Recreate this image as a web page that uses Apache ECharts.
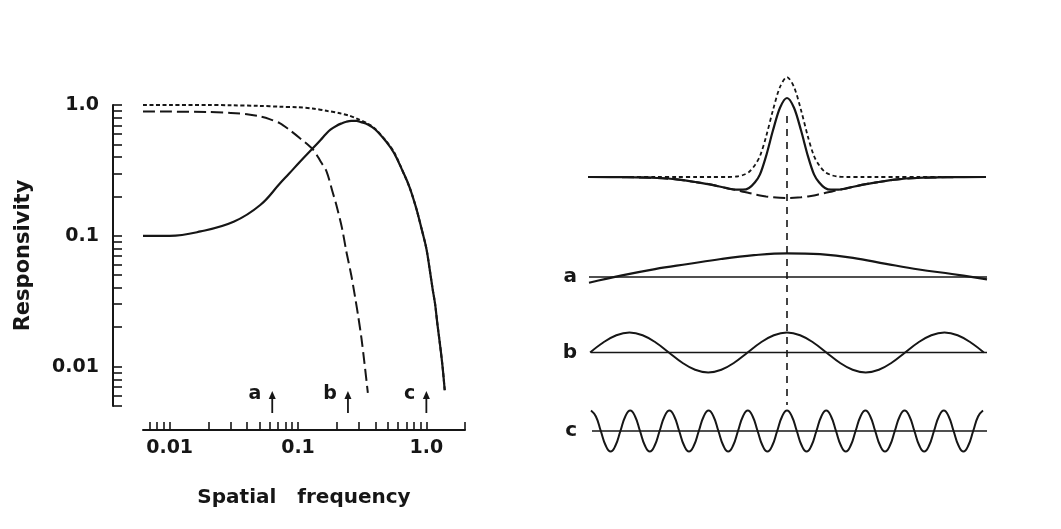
<!DOCTYPE html>
<html>
<head>
<meta charset="utf-8">
<script src="https://cdn.jsdelivr.net/npm/echarts@6.0.0/dist/echarts.min.js"></script>
<style>
  html, body { margin: 0; padding: 0; background: #fff; }
  #chart { width: 1061px; height: 529px; }
</style>
</head>
<body>
<div id="chart"></div>
<script>
// ---- left panel: responsivity vs spatial frequency (log / log) ----
const solidFreq = [0.0062, 0.01, 0.0174, 0.0315, 0.0508, 0.0725, 0.085, 0.1036, 0.1315, 0.15, 0.165, 0.18, 0.2, 0.22, 0.238, 0.26, 0.285, 0.31, 0.35, 0.4, 0.486, 0.56, 0.656, 0.74, 0.833, 0.92, 1.0, 1.06, 1.12, 1.17, 1.22, 1.28, 1.34, 1.39];
const solidResp = [0.1, 0.1, 0.108, 0.128, 0.172, 0.252, 0.298, 0.368, 0.471, 0.541, 0.6, 0.65, 0.695, 0.725, 0.745, 0.755, 0.755, 0.74, 0.71, 0.65, 0.525, 0.43, 0.31, 0.235, 0.163, 0.112, 0.08, 0.056, 0.039, 0.03, 0.021, 0.0145, 0.0098, 0.0066];

const surroundFreq = [0.0062, 0.01, 0.02, 0.03, 0.04, 0.05, 0.06, 0.0725, 0.085, 0.1036, 0.1315, 0.15, 0.167, 0.185, 0.199, 0.22, 0.238, 0.26, 0.277, 0.295, 0.312, 0.33, 0.35];
const surroundResp = [0.89, 0.89, 0.885, 0.87, 0.85, 0.82, 0.78, 0.725, 0.65, 0.557, 0.454, 0.37, 0.31, 0.22, 0.172, 0.115, 0.076, 0.05, 0.035, 0.024, 0.0165, 0.0105, 0.0063];

const centerFreq = [0.0062, 0.01, 0.02, 0.03, 0.05, 0.0725, 0.1, 0.13, 0.17, 0.212, 0.25, 0.285, 0.35, 0.4, 0.486, 0.56, 0.656, 0.74, 0.833, 0.92, 1.0, 1.06, 1.12, 1.17, 1.22, 1.28, 1.34, 1.39];
const centerResp = [1.0, 1.0, 1.0, 0.995, 0.985, 0.97, 0.96, 0.94, 0.90, 0.864, 0.83, 0.79, 0.72, 0.655, 0.53, 0.435, 0.31, 0.235, 0.163, 0.112, 0.08, 0.056, 0.039, 0.03, 0.021, 0.0145, 0.0098, 0.0066];

const arrowFreq = [0.063, 0.245, 1.0];
const arrowLabels = ['a', 'b', 'c'];

const xTickValues = [0.007, 0.008, 0.009, 0.01, 0.02, 0.03, 0.04, 0.05, 0.06, 0.07, 0.08, 0.09, 0.1, 0.2, 0.3, 0.4, 0.5, 0.6, 0.7, 0.8, 0.9, 1, 2];
const xLabelValues = [0.01, 0.1, 1];
const xLabelText = ['0.01', '0.1', '1.0'];
const yTickValues = [0.005, 0.006, 0.007, 0.008, 0.009, 0.01, 0.02, 0.03, 0.04, 0.05, 0.06, 0.07, 0.08, 0.09, 0.1, 0.2, 0.3, 0.4, 0.5, 0.6, 0.7, 0.8, 0.9, 1];
const yLabelValues = [0.01, 0.1, 1];
const yLabelText = ['0.01', '0.1', '1.0'];

// ---- right panel: profiles (position offset from centre, amplitude) ----
const profileX = [-199, -160, -130, -110, -90, -75, -60, -50, -44, -38, -32, -27, -21, -14, -7, 0, 7, 14, 21, 27, 32, 38, 44, 50, 60, 75, 90, 110, 130, 160, 199];
const profileCenter = [0, 0, 0, 0, 0, 0, 0, 0.5, 2, 5, 12, 21, 40, 67, 90, 100, 90, 67, 40, 21, 12, 5, 2, 0.5, 0, 0, 0, 0, 0, 0, 0];
const profileSurround = [0, -0.2, -1, -2.4, -5.3, -7.8, -11.2, -13.2, -14.7, -16, -17.3, -18.4, -19.4, -20.3, -20.8, -21, -20.8, -20.3, -19.4, -18.4, -17.3, -16, -14.7, -13.2, -11.2, -7.8, -5.3, -2.4, -1, -0.2, 0];
const profileSum = [0, -0.2, -1, -2.4, -5.3, -7.8, -11.2, -12.7, -12.7, -11, -5.3, 2.6, 20.6, 46.7, 69.2, 79, 69.2, 46.7, 20.6, 2.6, -5.3, -11, -12.7, -12.7, -11.2, -7.8, -5.3, -2.4, -1, -0.2, 0];

const gratingA_X = [-198, -165, -132, -99, -66, -33, 0, 33, 66, 99, 132, 165, 200];
const gratingA = [-5.7, 1.6, 7.9, 13, 18, 21.8, 23.7, 22.8, 19.2, 13.2, 7.5, 3, -2.3];
// b: samples every 1/12 period, c: every 1/8 period
const gratingB = [0, 10, 17.3, 20, 17.3, 10, 0, -10, -17.3, -20, -17.3, -10, 0, 10, 17.3, 20, 17.3, 10, 0, -10, -17.3, -20, -17.3, -10, 0, 10, 17.3, 20, 17.3, 10, 0];
const gratingC = [
  20.5, 14.5, 0, -14.5, -20.5, -14.5, 0, 14.5,
  20.5, 14.5, 0, -14.5, -20.5, -14.5, 0, 14.5,
  20.5, 14.5, 0, -14.5, -20.5, -14.5, 0, 14.5,
  20.5, 14.5, 0, -14.5, -20.5, -14.5, 0, 14.5,
  20.5, 14.5, 0, -14.5, -20.5, -14.5, 0, 14.5,
  20.5, 14.5, 0, -14.5, -20.5, -14.5, 0, 14.5,
  20.5, 14.5, 0, -14.5, -20.5, -14.5, 0, 14.5,
  20.5, 14.5, 0, -14.5, -20.5, -14.5, 0, 14.5,
  20.5, 14.5, 0, -14.5, -20.5, -14.5, 0, 14.5,
  20.5, 14.5, 0, -14.5, -20.5, -14.5, 0, 14.5,
  20.5
];
const rowNames = ['a', 'b', 'c'];

const ink = '#161616';
const font = '"DejaVu Sans", sans-serif';

// row layout of the right panel (value units of its y axis)
const rowBase = { profile: 293, a: 193, b: 117.5, c: 39 };
const bStart = -196.9, bStep = 13.125;
const cStart = -196, cStep = 4.9;

const pairs = (xs, ys) => xs.map((x, i) => [x, ys[i]]);
const lifted = (xs, ys, base) => xs.map((x, i) => [x, base + ys[i]]);
const stepped = (start, step, ys, base) => ys.map((y, i) => [start + i * step, base + y]);

const chart = echarts.init(document.getElementById('chart'));

function lineSeries(data, grid, width, dash, smooth) {
  return {
    type: 'line',
    xAxisIndex: grid,
    yAxisIndex: grid,
    data: data,
    showSymbol: false,
    symbol: 'none',
    smooth: smooth === undefined ? 0.3 : smooth,
    clip: false,
    silent: true,
    lineStyle: { color: ink, width: width, type: dash || 'solid' }
  };
}

const option = {
  backgroundColor: '#fff',
  animation: false,
  grid: [
    { left: 143, top: 105, width: 322, height: 301 },
    { left: 588, top: 60, width: 399, height: 410 }
  ],
  xAxis: [
    {
      type: 'log',
      gridIndex: 0,
      min: 0.0062,
      max: 2,
      offset: 24,
      name: 'Spatial   frequency',
      nameLocation: 'middle',
      nameGap: 58,
      nameTextStyle: { color: ink, fontSize: 20, fontWeight: 'bold', fontFamily: font },
      axisLine: { lineStyle: { color: ink, width: 2 } },
      axisTick: { inside: true, length: 8, lineStyle: { color: ink, width: 1.6 }, customValues: xTickValues },
      axisLabel: {
        customValues: xLabelValues,
        margin: 9,
        color: ink,
        fontSize: 19,
        fontWeight: 'bold',
        fontFamily: font,
        formatter: v => xLabelText[xLabelValues.indexOf(v)]
      },
      splitLine: { show: false },
      minorTick: { show: false }
    },
    { type: 'value', gridIndex: 1, min: -199, max: 200, show: false }
  ],
  yAxis: [
    {
      type: 'log',
      gridIndex: 0,
      min: 0.005,
      max: 1,
      offset: 30,
      name: 'Responsivity',
      nameLocation: 'middle',
      nameRotate: 90,
      nameGap: 79,
      nameTextStyle: { color: ink, fontSize: 21, fontWeight: 'bold', fontFamily: font },
      axisLine: { lineStyle: { color: ink, width: 2 } },
      axisTick: { inside: true, length: 9, lineStyle: { color: ink, width: 1.6 }, customValues: yTickValues },
      axisLabel: {
        customValues: yLabelValues,
        margin: 14,
        color: ink,
        fontSize: 19,
        fontWeight: 'bold',
        fontFamily: font,
        formatter: v => yLabelText[yLabelValues.indexOf(v)]
      },
      splitLine: { show: false },
      minorTick: { show: false }
    },
    {
      type: 'value',
      gridIndex: 1,
      min: 0,
      max: 410,
      axisLine: { show: false },
      axisTick: { show: false },
      splitLine: { show: false },
      axisLabel: {
        customValues: [rowBase.a, rowBase.b, rowBase.c],
        margin: 11,
        color: ink,
        fontSize: 20,
        fontWeight: 'bold',
        fontFamily: font,
        formatter: v => rowNames[[rowBase.a, rowBase.b, rowBase.c].indexOf(v)]
      }
    }
  ],
  series: [
    // left panel curves
    lineSeries(pairs(solidFreq, solidResp), 0, 2.2, 'solid', 0.4),
    lineSeries(pairs(surroundFreq, surroundResp), 0, 2, [12, 5]),
    lineSeries(pairs(centerFreq, centerResp), 0, 2, [4, 2.5]),
    {
      type: 'custom',
      xAxisIndex: 0,
      yAxisIndex: 0,
      silent: true,
      data: arrowFreq.map(f => [f, 1]),
      renderItem(params, api) {
        const x = api.coord([api.value(0), 1])[0];
        const bottom = params.coordSys.y + params.coordSys.height;
        return {
          type: 'group',
          children: [
            { type: 'line', shape: { x1: x, y1: bottom + 7, x2: x, y2: bottom - 9 }, style: { stroke: ink, lineWidth: 1.8 } },
            { type: 'polygon', shape: { points: [[x, bottom - 15], [x - 3.5, bottom - 7], [x + 3.5, bottom - 7]] }, style: { fill: ink } },
            {
              type: 'text',
              style: {
                text: arrowLabels[params.dataIndex],
                x: x - 11,
                y: bottom - 12,
                align: 'right',
                verticalAlign: 'middle',
                fontSize: 19,
                fontWeight: 'bold',
                fontFamily: font,
                fill: ink
              }
            }
          ]
        };
      }
    },

    // right panel: receptive field profile
    lineSeries(lifted(profileX, profileSurround, rowBase.profile), 1, 2, [12, 5]),
    lineSeries(lifted(profileX, profileCenter, rowBase.profile), 1, 1.8, [4, 3]),
    lineSeries(lifted(profileX, profileSum, rowBase.profile), 1, 2.2),
    // centre marker
    lineSeries([[0, 354], [0, 65]], 1, 1.6, [7, 6], false),

    // gratings with their zero lines
    lineSeries([[-198, rowBase.a], [200, rowBase.a]], 1, 1.6, 'solid', false),
    lineSeries(lifted(gratingA_X, gratingA, rowBase.a), 1, 2.2, 'solid', 0.4),
    lineSeries([[-196, rowBase.b], [200, rowBase.b]], 1, 1.6, 'solid', false),
    lineSeries(stepped(bStart, bStep, gratingB, rowBase.b), 1, 2, 'solid', 0.4),
    lineSeries([[-195, rowBase.c], [200, rowBase.c]], 1, 1.6, 'solid', false),
    lineSeries(stepped(cStart, cStep, gratingC, rowBase.c), 1, 2, 'solid', 0.5)
  ]
};

chart.setOption(option);
</script>
</body>
</html>
